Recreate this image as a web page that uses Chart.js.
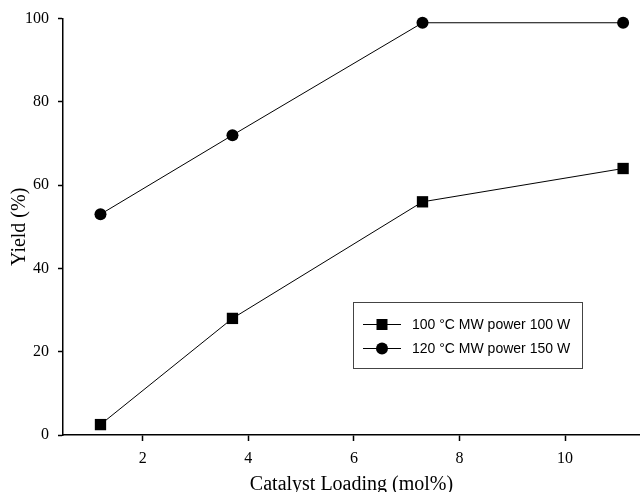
<!DOCTYPE html>
<html>
<head>
<meta charset="utf-8">
<title>Yield vs catalyst loading</title>
<script src="https://cdn.jsdelivr.net/npm/chart.js@4.4.1/dist/chart.umd.min.js"></script>
<style>
  html, body { margin: 0; padding: 0; background: #fff; overflow: hidden; }
  #wrap { width: 640px; height: 492px; overflow: hidden; }
</style>
</head>
<body>
<div id="wrap"><canvas id="chart" width="640" height="500"></canvas></div>
<script>
// ── Data ─────────────────────────────────────────────────

const LOADING = [1.2, 3.7, 7.3, 11.1];          // mol%
const YIELD_100W = [2.5, 28, 56, 64];           // %
const YIELD_150W = [53, 72, 99, 99];            // %
const X_TICKS = [2, 4, 6, 8, 10];
const Y_TICKS = [0, 20, 40, 60, 80, 100];
const SERIES_LABELS = ["100 °C MW power 100 W", "120 °C MW power 150 W"];

const SERIF = "'Liberation Serif', 'Times New Roman', serif";
const SANS = "'Liberation Sans', Arial, sans-serif";

const toPoints = (ys) => LOADING.map((x, i) => ({ x, y: ys[i] }));

// ── Boxed legend inside the plot ─────────────────────────

const boxLegend = {
  id: "boxLegend",
  afterDraw(chart) {
    const ctx = chart.ctx;
    const box = { x: 353.5, y: 302.5, w: 229, h: 66 };
    ctx.save();
    ctx.strokeStyle = "#444";
    ctx.lineWidth = 1;
    ctx.strokeRect(box.x, box.y, box.w, box.h);

    ctx.font = "14px " + SANS;
    ctx.textBaseline = "middle";
    ctx.fillStyle = "#000";
    chart.data.datasets.forEach((ds, i) => {
      const y = 324.5 + i * 24;
      ctx.strokeStyle = "#000";
      ctx.lineWidth = 1;
      ctx.beginPath();
      ctx.moveTo(363, y);
      ctx.lineTo(401, y);
      ctx.stroke();
      ctx.beginPath();
      if (ds.pointStyle === "rect") {
        ctx.rect(382 - 5.5, y - 5.5, 11, 11);
      } else {
        ctx.arc(382, y, 6, 0, Math.PI * 2);
      }
      ctx.fill();
      ctx.fillText(ds.label, 412, y + 1);
    });
    ctx.restore();
  },
};

// ── Chart ────────────────────────────────────────────────

const ctx = document.getElementById("chart").getContext("2d");

new Chart(ctx, {
  type: "line",
  data: {
    datasets: [
      {
        label: SERIES_LABELS[0],
        data: toPoints(YIELD_100W),
        borderColor: "#000",
        backgroundColor: "#000",
        borderWidth: 1,
        pointStyle: "rect",
        pointRadius: 8,
        pointBorderWidth: 0,
        clip: false,
      },
      {
        label: SERIES_LABELS[1],
        data: toPoints(YIELD_150W),
        borderColor: "#000",
        backgroundColor: "#000",
        borderWidth: 1,
        pointStyle: "circle",
        pointRadius: 6,
        pointBorderWidth: 0,
        clip: false,
      },
    ],
  },
  options: {
    responsive: false,
    animation: false,
    layout: { autoPadding: false, padding: { top: 17, right: 0, left: 0, bottom: 0 } },
    plugins: {
      legend: { display: false },
      tooltip: { enabled: false },
    },
    scales: {
      x: {
        type: "linear",
        min: 0.49,
        max: 11.42,
        afterBuildTicks: (scale) => { scale.ticks = X_TICKS.map((v) => ({ value: v })); },
        afterFit: (scale) => {
          scale.height = 65;
          scale.paddingLeft = 0;
          scale.paddingRight = 0;
        },
        border: { display: true, color: "#000", width: 1.5 },
        grid: { drawOnChartArea: false, color: "#000", tickLength: 6, tickWidth: 1.5 },
        ticks: { color: "#000", padding: 8, font: { family: SERIF, size: 16 } },
        title: {
          display: true,
          text: "Catalyst Loading (mol%)",
          color: "#000",
          padding: { top: 0, bottom: 3 },
          font: { family: SERIF, size: 20 },
        },
      },
      y: {
        type: "linear",
        min: 0,
        max: 100,
        afterBuildTicks: (scale) => { scale.ticks = Y_TICKS.map((v) => ({ value: v })); },
        afterFit: (scale) => { scale.width = 63; },
        border: { display: true, color: "#000", width: 1.5 },
        grid: { drawOnChartArea: false, color: "#000", tickLength: 5, tickWidth: 1.5 },
        ticks: { color: "#000", padding: 9, font: { family: SERIF, size: 16 } },
        title: {
          display: true,
          text: "Yield (%)",
          color: "#000",
          padding: { top: 8, bottom: 0 },
          font: { family: SERIF, size: 20 },
        },
      },
    },
  },
  plugins: [boxLegend],
});
</script>
</body>
</html>
